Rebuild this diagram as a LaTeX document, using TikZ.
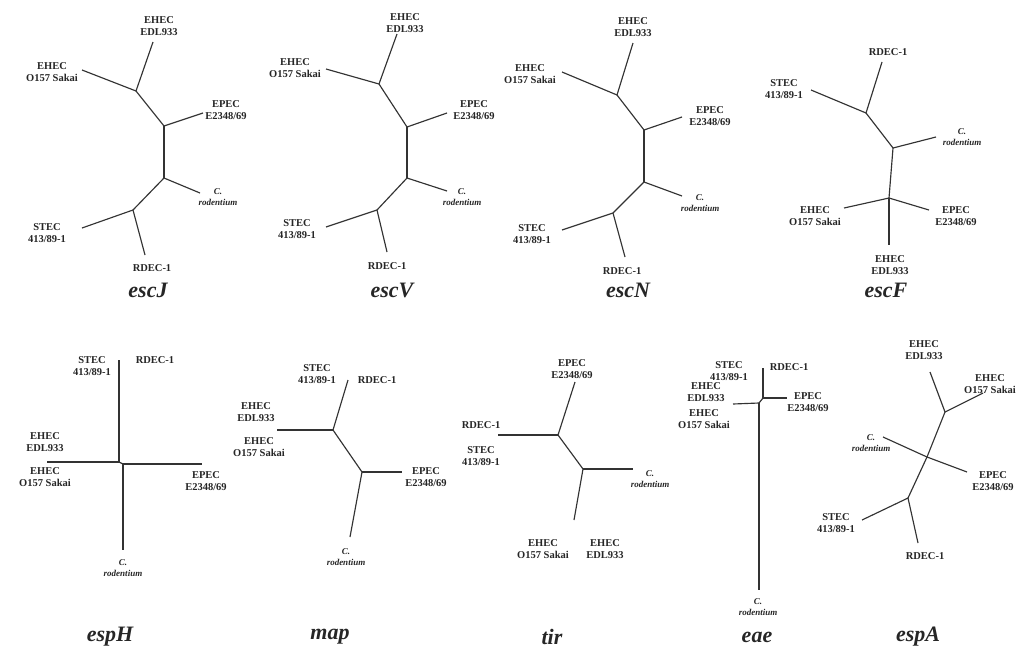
\documentclass[tikz,border=0pt]{standalone}
\usepackage{fontspec}
\setmainfont{Liberation Serif}
\begin{document}
\begin{tikzpicture}[x=1pt,y=-1pt,
  br/.style={draw=black!80,line width=1.15pt},
  lab/.style={font=\fontsize{10.5}{11.5}\selectfont\bfseries,align=center,inner sep=0pt,text=black!85},
  rodlab/.style={font=\fontsize{9}{10.5}\selectfont\bfseries\itshape,align=center,inner sep=0pt,text=black!85},
  ttl/.style={font=\fontsize{22}{24}\selectfont\bfseries\itshape,inner sep=0pt,text=black!85}]
\useasboundingbox (0,0) rectangle (1024,654);
\fill[white] (0,0) rectangle (1024,654);

% ---------- escJ ----------
\coordinate (JA) at (136,91); \coordinate (JB) at (164,126);
\coordinate (JC) at (164,178); \coordinate (JD) at (133,210);
\coordinate (Jedl) at (153,42); \coordinate (Jsak) at (82,70);
\coordinate (Jepec) at (203,113); \coordinate (Jrod) at (200,193);
\coordinate (Jstec) at (82,228); \coordinate (Jrdec) at (145,255);
\draw[br] (Jedl) -- (JA); \draw[br] (Jsak) -- (JA); \draw[br] (JA) -- (JB);
\draw[br] (JB) -- (Jepec); \draw[br] (JB) -- (JC); \draw[br] (JC) -- (Jrod);
\draw[br] (JC) -- (JD); \draw[br] (JD) -- (Jstec); \draw[br] (JD) -- (Jrdec);
\node[lab] (Jl1) at (159,26) {EHEC\\EDL933};
\node[lab] (Jl2) at (52,72) {EHEC\\O157 Sakai};
\node[lab] (Jl3) at (226,110) {EPEC\\E2348/69};
\node[rodlab] (Jl4) at (218,197) {C.\\rodentium};
\node[lab] (Jl5) at (47,233) {STEC\\413/89-1};
\node[lab] (Jl6) at (152,268) {RDEC-1};
\node[ttl] (Jt) at (148,290) {escJ};

% ---------- escV ----------
\coordinate (VA) at (379,84); \coordinate (VB) at (407,127);
\coordinate (VC) at (407,178); \coordinate (VD) at (377,210);
\coordinate (Vedl) at (397,34); \coordinate (Vsak) at (326,69);
\coordinate (Vepec) at (447,113); \coordinate (Vrod) at (447,191);
\coordinate (Vstec) at (326,227); \coordinate (Vrdec) at (387,252);
\draw[br] (Vedl) -- (VA); \draw[br] (Vsak) -- (VA); \draw[br] (VA) -- (VB);
\draw[br] (VB) -- (Vepec); \draw[br] (VB) -- (VC); \draw[br] (VC) -- (Vrod);
\draw[br] (VC) -- (VD); \draw[br] (VD) -- (Vstec); \draw[br] (VD) -- (Vrdec);
\node[lab] (Vl1) at (405,23) {EHEC\\EDL933};
\node[lab] (Vl2) at (295,68) {EHEC\\O157 Sakai};
\node[lab] (Vl3) at (474,110) {EPEC\\E2348/69};
\node[rodlab] (Vl4) at (462,197) {C.\\rodentium};
\node[lab] (Vl5) at (297,229) {STEC\\413/89-1};
\node[lab] (Vl6) at (387,266) {RDEC-1};
\node[ttl] (Vt) at (392,290) {escV};

% ---------- escN ----------
\coordinate (NA) at (617,95); \coordinate (NB) at (644,130);
\coordinate (NC) at (644,182); \coordinate (ND) at (613,213);
\coordinate (Nedl) at (633,43); \coordinate (Nsak) at (562,72);
\coordinate (Nepec) at (682,117); \coordinate (Nrod) at (682,196);
\coordinate (Nstec) at (562,230); \coordinate (Nrdec) at (625,257);
\draw[br] (Nedl) -- (NA); \draw[br] (Nsak) -- (NA); \draw[br] (NA) -- (NB);
\draw[br] (NB) -- (Nepec); \draw[br] (NB) -- (NC); \draw[br] (NC) -- (Nrod);
\draw[br] (NC) -- (ND); \draw[br] (ND) -- (Nstec); \draw[br] (ND) -- (Nrdec);
\node[lab] (Nl1) at (633,27) {EHEC\\EDL933};
\node[lab] (Nl2) at (530,74) {EHEC\\O157 Sakai};
\node[lab] (Nl3) at (710,116) {EPEC\\E2348/69};
\node[rodlab] (Nl4) at (700,203) {C.\\rodentium};
\node[lab] (Nl5) at (532,234) {STEC\\413/89-1};
\node[lab] (Nl6) at (622,271) {RDEC-1};
\node[ttl] (Nt) at (628,290) {escN};

% ---------- escF ----------
\coordinate (FA) at (866,113); \coordinate (FB) at (893,148);
\coordinate (FC) at (889,198);
\coordinate (Frdec) at (882,62); \coordinate (Fstec) at (811,90);
\coordinate (Frod) at (936,137); \coordinate (Fsak) at (844,208);
\coordinate (Fepec) at (929,210); \coordinate (Fedl) at (889,245);
\draw[br] (Frdec) -- (FA); \draw[br] (Fstec) -- (FA); \draw[br] (FA) -- (FB);
\draw[br] (FB) -- (Frod); \draw[br] (FB) -- (FC); \draw[br] (FC) -- (Fsak);
\draw[br] (FC) -- (Fepec); \draw[br] (FC) -- (Fedl);
\node[lab] (Fl1) at (888,52) {RDEC-1};
\node[lab] (Fl2) at (784,89) {STEC\\413/89-1};
\node[rodlab] (Fl3) at (962,137) {C.\\rodentium};
\node[lab] (Fl4) at (815,216) {EHEC\\O157 Sakai};
\node[lab] (Fl5) at (956,216) {EPEC\\E2348/69};
\node[lab] (Fl6) at (890,265) {EHEC\\EDL933};
\node[ttl] (Ft) at (886,290) {escF};

% ---------- espH ----------
\coordinate (Hn1) at (119,462); \coordinate (Hn2) at (123,464);
\coordinate (Htop) at (119,360); \coordinate (Hleft) at (47,462);
\coordinate (Hright) at (202,464); \coordinate (Hbot) at (123,550);
\draw[br] (Htop) -- (Hn1); \draw[br] (Hleft) -- (Hn1); \draw[br] (Hn1) -- (Hn2);
\draw[br] (Hn2) -- (Hright); \draw[br] (Hn2) -- (Hbot);
\node[lab] (Hl1) at (92,366) {STEC\\413/89-1};
\node[lab] (Hl2) at (155,360) {RDEC-1};
\node[lab] (Hl3) at (45,442) {EHEC\\EDL933};
\node[lab] (Hl4) at (45,477) {EHEC\\O157 Sakai};
\node[lab] (Hl5) at (206,481) {EPEC\\E2348/69};
\node[rodlab] (Hl6) at (123,568) {C.\\rodentium};
\node[ttl] (Ht) at (110,637) {espH};

% ---------- map ----------
\coordinate (MA) at (333,430); \coordinate (MB) at (362,472);
\coordinate (Mtop) at (348,380); \coordinate (Mleft) at (277,430);
\coordinate (Mright) at (402,472); \coordinate (Mbot) at (350,537);
\draw[br] (Mtop) -- (MA); \draw[br] (Mleft) -- (MA); \draw[br] (MA) -- (MB);
\draw[br] (MB) -- (Mright); \draw[br] (MB) -- (Mbot);
\node[lab] (Ml1) at (317,374) {STEC\\413/89-1};
\node[lab] (Ml2) at (377,380) {RDEC-1};
\node[lab] (Ml3) at (256,412) {EHEC\\EDL933};
\node[lab] (Ml4) at (259,447) {EHEC\\O157 Sakai};
\node[lab] (Ml5) at (426,477) {EPEC\\E2348/69};
\node[rodlab] (Ml6) at (346,557) {C.\\rodentium};
\node[ttl] (Mt) at (330,637) {map};

% ---------- tir ----------
\coordinate (TA) at (558,435); \coordinate (TB) at (583,469);
\coordinate (Ttop) at (575,382); \coordinate (Tleft) at (498,435);
\coordinate (Tright) at (633,469); \coordinate (Tbot) at (574,520);
\draw[br] (Ttop) -- (TA); \draw[br] (Tleft) -- (TA); \draw[br] (TA) -- (TB);
\draw[br] (TB) -- (Tright); \draw[br] (TB) -- (Tbot);
\node[lab] (Tl1) at (572,369) {EPEC\\E2348/69};
\node[lab] (Tl2) at (481,425) {RDEC-1};
\node[lab] (Tl3) at (481,456) {STEC\\413/89-1};
\node[rodlab] (Tl4) at (650,479) {C.\\rodentium};
\node[lab] (Tl5) at (543,549) {EHEC\\O157 Sakai};
\node[lab] (Tl6) at (605,549) {EHEC\\EDL933};
\node[ttl] (Tt) at (552,637) {tir};

% ---------- eae ----------
\coordinate (En1) at (763,398); \coordinate (En2) at (759,403);
\coordinate (Etop) at (763,368); \coordinate (Eleft) at (733,404);
\coordinate (Eright) at (787,398); \coordinate (Ebot) at (759,590);
\draw[br] (Etop) -- (En1); \draw[br] (En1) -- (Eright); \draw[br] (En1) -- (En2);
\draw[br] (Eleft) -- (En2); \draw[br] (En2) -- (Ebot);
\node[lab] (El1) at (729,371) {STEC\\413/89-1};
\node[lab] (El2) at (789,367) {RDEC-1};
\node[lab] (El3) at (808,402) {EPEC\\E2348/69};
\node[lab] (El4) at (706,392) {EHEC\\EDL933};
\node[lab] (El5) at (704,419) {EHEC\\O157 Sakai};
\node[rodlab] (El6) at (758,607) {C.\\rodentium};
\node[ttl] (Et) at (757,637) {eae};

% ---------- espA ----------
\coordinate (PA) at (945,412); \coordinate (PB) at (927,457);
\coordinate (PC) at (908,498);
\coordinate (Pedl) at (930,372); \coordinate (Psak) at (983,393);
\coordinate (Prod) at (883,437); \coordinate (Pepec) at (967,472);
\coordinate (Pstec) at (862,520); \coordinate (Prdec) at (918,543);
\draw[br] (Pedl) -- (PA); \draw[br] (Psak) -- (PA); \draw[br] (PA) -- (PB);
\draw[br] (Prod) -- (PB); \draw[br] (PB) -- (Pepec); \draw[br] (PB) -- (PC);
\draw[br] (PC) -- (Pstec); \draw[br] (PC) -- (Prdec);
\node[lab] (Pl1) at (924,350) {EHEC\\EDL933};
\node[lab] (Pl2) at (990,384) {EHEC\\O157 Sakai};
\node[rodlab] (Pl3) at (871,443) {C.\\rodentium};
\node[lab] (Pl4) at (993,481) {EPEC\\E2348/69};
\node[lab] (Pl5) at (836,523) {STEC\\413/89-1};
\node[lab] (Pl6) at (925,556) {RDEC-1};
\node[ttl] (Pt) at (918,637) {espA};
\end{tikzpicture}
\end{document}
